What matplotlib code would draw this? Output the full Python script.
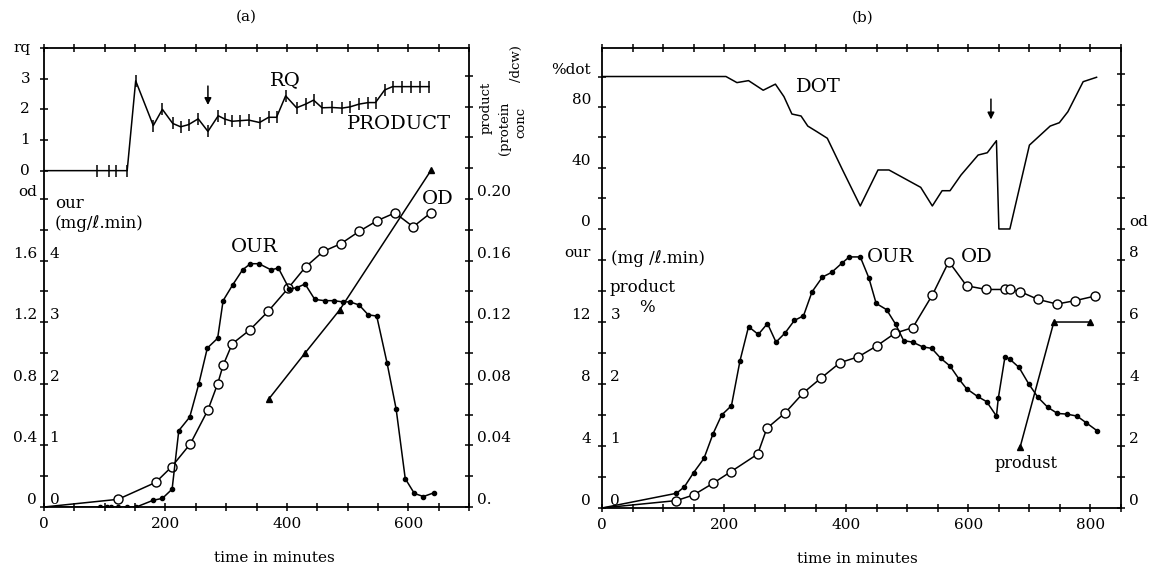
import matplotlib.pyplot as plt

plt.rcParams['font.family'] = ['DejaVu Serif', 'DejaVu Sans']
plt.rcParams['font.size'] = 11

# ---------------- panel (a) ----------------
a_rq_t = [0, 88, 107, 119, 137, 151, 180, 195, 212, 225, 238, 254, 270, 287, 298, 310, 323, 337, 355,
          370, 383, 398, 416, 431, 444, 458, 474, 491, 504, 519, 534, 546, 561, 574, 589, 604, 619, 634]
a_rq = [0, 0, 0, 0, 0, 2.93, 1.47, 2.0, 1.54, 1.43, 1.5, 1.69, 1.28, 1.79, 1.68, 1.61, 1.63, 1.65, 1.57,
        1.74, 1.74, 2.44, 2.05, 2.17, 2.3, 2.05, 2.06, 2.04, 2.08, 2.17, 2.22, 2.22, 2.63, 2.74, 2.74, 2.74, 2.74, 2.74]

a_od_t = [0, 122, 184, 210, 241, 270, 286, 295, 310, 339, 369, 402, 431, 460, 489, 519, 549, 578, 608, 637]
a_od = [0, 0.05, 0.16, 0.26, 0.41, 0.63, 0.80, 0.92, 1.06, 1.15, 1.27, 1.42, 1.56, 1.66, 1.71, 1.79, 1.86,
        1.91, 1.82, 1.91]

a_our_t = [0, 92, 104, 110, 122, 137, 152, 180, 195, 211, 222, 240, 255, 269, 286, 295, 311, 327, 340, 354,
           374, 386, 404, 416, 430, 446, 462, 477, 492, 504, 519, 534, 548, 565, 580, 595, 610, 625, 642]
a_our = [0, 0, 0, 0, 0, 0, 0, 0.11, 0.14, 0.29, 1.24, 1.46, 2.0, 2.58, 2.74, 3.35, 3.61, 3.85, 3.95, 3.95,
         3.85, 3.88, 3.54, 3.56, 3.62, 3.37, 3.35, 3.35, 3.33, 3.33, 3.28, 3.12, 3.1, 2.34, 1.59, 0.46, 0.22,
         0.17, 0.23]

a_prod_t = [370, 430, 487, 638]
a_prod = [0.070, 0.100, 0.128, 0.219]

# ---------------- panel (b) ----------------
b_dot_t = [0, 203, 221, 240, 264, 284, 298, 311, 326, 337, 352, 369, 394, 423, 452, 470, 522, 541, 557, 570,
           588, 616, 631, 646, 650, 668, 700, 734, 749, 763, 788, 810]
b_dot = [100, 100, 96, 97.3, 91, 95, 86.8, 75.4, 74.1, 67.5, 63.8, 59.5, 38.7, 15.1, 38.7, 38.7, 27.3, 15.1,
         25.1, 25.1, 35.4, 48.5, 50, 57.9, 0, 0, 55, 67.5, 69.7, 76.9, 96.6, 99.5]

b_our_t = [0, 122, 135, 150, 167, 182, 196, 212, 226, 240, 256, 271, 285, 300, 315, 330, 344, 361, 376, 393,
           405, 423, 437, 449, 466, 481, 494, 509, 525, 540, 555, 570, 585, 597, 615, 630, 646, 649, 660, 668,
           683, 699, 714, 730, 746, 761, 778, 793, 811]
b_our = [0, 0.95, 1.37, 2.28, 3.2, 4.8, 6.0, 6.6, 9.5, 11.7, 11.2, 11.9, 10.7, 11.3, 12.1, 12.4, 13.95, 14.9,
         15.2, 15.8, 16.2, 16.2, 14.85, 13.2, 12.8, 11.85, 10.8, 10.7, 10.4, 10.3, 9.65, 9.16, 8.3, 7.7, 7.2,
         6.86, 5.93, 7.07, 9.76, 9.6, 9.07, 8.0, 7.14, 6.5, 6.1, 6.06, 5.93, 5.5, 4.98]

b_od_t = [0, 122, 150, 182, 211, 255, 270, 300, 330, 358, 390, 420, 450, 480, 509, 541, 568, 597, 629, 660,
          668, 685, 714, 745, 775, 808]
b_od = [0, 0.24, 0.42, 0.80, 1.17, 1.74, 2.57, 3.07, 3.72, 4.18, 4.69, 4.88, 5.23, 5.64, 5.82, 6.87, 7.95,
        7.17, 7.05, 7.05, 7.05, 6.98, 6.73, 6.58, 6.69, 6.84]

b_prod_t = [685, 740, 799]
b_prod = [0.99, 3.0, 3.0]

W, H = 1155, 572
TL = 6      # tick length
LW = 1.1    # data line width


def twin(ax, lim):
    t = ax.twinx()
    t.set_ylim(*lim)
    for s in t.spines.values():
        s.set_visible(False)
    t.yaxis.tick_left()
    return t


def lift(ax, va='bottom'):
    plt.setp(ax.get_yticklabels(), va=va)


def xticks(ax, xmax):
    ticks = list(range(0, xmax + 1, 50))
    ax.set_xticks(ticks)
    ax.set_xticklabels([str(t) if t % 200 == 0 else '' for t in ticks])
    ax.tick_params(axis='x', direction='inout', length=TL, width=1.1, top=True, pad=4)
    for s in ax.spines.values():
        s.set_linewidth(1.3)


fig = plt.figure(figsize=(11.55, 5.72), dpi=100)

# ================= (a) =================
ax_a = fig.add_axes([44 / W, 1 - 507 / H, 425 / W, 459 / H])
ax_a.set_xlim(0, 700)
ax_a.set_ylim(0, 2.981)
our_a = twin(ax_a, (0, 7.452))
prod_a = twin(ax_a, (0, 0.2981))
rq_a = twin(ax_a, (-10.97, 4.0))
ax_a.yaxis.tick_left()
xticks(ax_a, 700)

od_ticks = [i * 0.2 for i in range(11)]
ax_a.set_yticks(od_ticks)
ax_a.set_yticklabels(['0', '', '0.4', '', '0.8', '', '1.2', '', '1.6', '', 'od'])
ax_a.tick_params(axis='y', direction='inout', length=TL, width=1.1, pad=2)
lift(ax_a)

our_a.set_yticks([0, 1, 2, 3, 4])
our_a.set_yticklabels(['0', '1', '2', '3', '4'])
our_a.tick_params(axis='y', length=0, pad=-11)
lift(our_a)

p_ticks = [i * 0.02 for i in range(15)]
prod_a.yaxis.tick_right()
prod_a.set_yticks(p_ticks)
prod_a.set_yticklabels(['0.' if i == 0 else (f'{v:.2f}' if i % 2 == 0 and i <= 10 else '')
                        for i, v in enumerate(p_ticks)])
prod_a.tick_params(axis='y', direction='inout', length=TL, width=1.1, pad=3)
lift(prod_a)

rq_a.set_yticks([0, 1, 2, 3, 4])
rq_a.set_yticklabels(['0', '1', '2', '3', 'rq'])
rq_a.tick_params(axis='y', direction='inout', length=TL, width=1.1, pad=7)
lift(rq_a, 'center')

ax_a.plot(a_od_t, a_od, 'k-', lw=LW, marker='o', ms=6.5, mfc='white', mec='k', mew=1.0,
          markevery=list(range(1, len(a_od))))
our_a.plot(a_our_t, a_our, 'k-', lw=LW, marker='o', ms=3, markevery=list(range(1, len(a_our))))
prod_a.plot(a_prod_t, a_prod, 'k-', lw=LW, marker='^', ms=4)
rq_a.plot(a_rq_t, a_rq, 'k-', lw=LW, marker='|', ms=8, mew=1.1, markevery=list(range(1, len(a_rq))))

rq_a.annotate('', xy=(270, 2.05), xytext=(270, 2.85),
              arrowprops=dict(arrowstyle='-|>', color='k', lw=1.1, mutation_scale=10))
rq_a.text(398, 2.96, 'RQ', ha='center', va='center', fontsize=14)
rq_a.text(585, 1.53, 'PRODUCT', ha='center', va='center', fontsize=14)
ax_a.text(346, 1.69, 'OUR', ha='center', va='center', fontsize=14)
ax_a.text(649, 2.0, 'OD', ha='center', va='center', fontsize=14)
ax_a.text(18, 1.97, 'our', ha='left', va='center', fontsize=12)
ax_a.text(18, 1.84, '(mg/ℓ.min)', ha='left', va='center', fontsize=12)

ax_a.set_xlabel('time in minutes', fontsize=11)
ax_a.xaxis.set_label_coords(0.541, -0.095)
fig.text(246 / W, 1 - 17 / H, '(a)', ha='center', va='center', fontsize=11)

fig.text(486 / W, 1 - 108 / H, 'product', rotation=90, ha='center', va='center', fontsize=9.5)
fig.text(504 / W, 1 - 128 / H, '(protein', rotation=90, ha='center', va='center', fontsize=9.5)
fig.text(516 / W, 1 - 64 / H, '/dcw)', rotation=90, ha='center', va='center', fontsize=9.5)
fig.text(521 / W, 1 - 122 / H, 'conc', rotation=90, ha='center', va='center', fontsize=9.5)

# ================= (b) =================
ax_b = fig.add_axes([602 / W, 1 - 508 / H, 519 / W, 460 / H])
ax_b.set_xlim(0, 850)
ax_b.set_ylim(0, 14.84)
our_b = twin(ax_b, (0, 29.68))
prod_b = twin(ax_b, (0, 7.42))
dot_b = twin(ax_b, (-183, 118.7))
ax_b.yaxis.tick_right()
xticks(ax_b, 850)

ax_b.set_yticks(list(range(15)))
ax_b.set_yticklabels(['0', '', '2', '', '4', '', '6', '', '8', 'od', '', '', '', '', ''])
ax_b.tick_params(axis='y', direction='inout', length=TL, width=1.1, pad=3)
lift(ax_b)

our_b.set_yticks(list(range(0, 17, 2)))
our_b.set_yticklabels(['0', '', '4', '', '8', '', '12', '', 'our'])
our_b.tick_params(axis='y', direction='inout', length=TL, width=1.1, pad=5)
lift(our_b)

prod_b.set_yticks([0, 1, 2, 3])
prod_b.set_yticklabels(['0', '1', '2', '3'])
prod_b.tick_params(axis='y', length=0, pad=-13)
lift(prod_b)

dot_b.set_yticks(list(range(0, 101, 20)))
dot_b.set_yticklabels(['0', '', '40', '', '80', '%dot'])
dot_b.tick_params(axis='y', direction='inout', length=TL, width=1.1, pad=5)
lift(dot_b)

ax_b.plot(b_od_t, b_od, 'k-', lw=LW, marker='o', ms=6.5, mfc='white', mec='k', mew=1.0,
          markevery=list(range(1, len(b_od))))
our_b.plot(b_our_t, b_our, 'k-', lw=LW, marker='o', ms=3, markevery=list(range(1, len(b_our))))
prod_b.plot(b_prod_t, b_prod, 'k-', lw=LW, marker='^', ms=4)
dot_b.plot(b_dot_t, b_dot, 'k-', lw=LW)

dot_b.annotate('', xy=(637, 70), xytext=(637, 87),
               arrowprops=dict(arrowstyle='-|>', color='k', lw=1.1, mutation_scale=10))
dot_b.text(355, 93, 'DOT', ha='center', va='center', fontsize=14)
our_b.text(473, 16.2, 'OUR', ha='center', va='center', fontsize=14)
ax_b.text(613, 8.1, 'OD', ha='center', va='center', fontsize=14)
prod_b.text(695, 0.71, 'produst', ha='center', va='center', fontsize=11.5)
our_b.text(15, 16.1, '(mg /ℓ.min)', ha='left', va='center', fontsize=12)
prod_b.text(12.5, 3.56, 'product', ha='left', va='center', fontsize=12)
prod_b.text(74, 3.23, '%', ha='center', va='center', fontsize=12)

ax_b.set_xlabel('time in minutes', fontsize=11)
ax_b.xaxis.set_label_coords(0.492, -0.095)
fig.text(863 / W, 1 - 18 / H, '(b)', ha='center', va='center', fontsize=11)

fig.savefig('out.png', dpi=100)
